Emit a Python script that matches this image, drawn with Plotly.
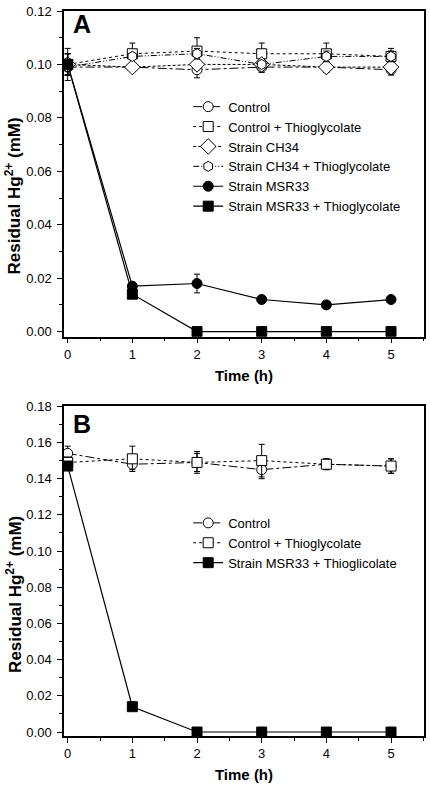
import plotly.graph_objects as go

time_h = [0, 1, 2, 3, 4, 5]

# Panel A
a_control = [0.099, 0.099, 0.098, 0.099, 0.099, 0.098]
a_control_err = [0.003, 0.001, 0.003, 0.002, 0.002, 0.002]
a_control_thio = [0.100, 0.104, 0.105, 0.104, 0.104, 0.103]
a_control_thio_err = [0.006, 0.004, 0.005, 0.004, 0.004, 0.003]
a_ch34 = [0.100, 0.099, 0.100, 0.100, 0.099, 0.099]
a_ch34_err = [0.004, 0.001, 0.002, 0.001, 0.002, 0.002]
a_ch34_thio = [0.099, 0.103, 0.104, 0.100, 0.103, 0.103]
a_ch34_thio_err = [0.003, 0.001, 0.002, 0.001, 0.002, 0.002]
a_msr33 = [0.100, 0.017, 0.018, 0.012, 0.010, 0.012]
a_msr33_err = [0.004, 0.001, 0.0035, 0.0015, 0.001, 0.001]
a_msr33_thio = [0.100, 0.014, 0.000, 0.000, 0.000, 0.000]
a_msr33_thio_err = [0.004, 0.001, 0, 0, 0, 0]

# Panel B
b_control = [0.154, 0.148, 0.149, 0.145, 0.148, 0.147]
b_control_err = [0.004, 0.003, 0.005, 0.005, 0.003, 0.004]
b_control_thio = [0.149, 0.151, 0.149, 0.150, 0.148, 0.147]
b_control_thio_err = [0.003, 0.007, 0.006, 0.009, 0.003, 0.004]
b_msr33_thio = [0.147, 0.014, 0.000, 0.000, 0.000, 0.000]
b_msr33_thio_err = [0.002, 0.001, 0, 0, 0, 0]

x_ticks = [0, 1, 2, 3, 4, 5]
a_y_ticks = [0, 0.02, 0.04, 0.06, 0.08, 0.10, 0.12]
b_y_ticks = [0, 0.02, 0.04, 0.06, 0.08, 0.10, 0.12, 0.14, 0.16, 0.18]

FONT = "Liberation Sans, Arial, sans-serif"
DASHDOTDOT = "6px,2px,1px,2px,1px,2px"

fig = go.Figure()


def add(y, err, name, symbol, dash, filled, xa, ya, legend):
    fig.add_trace(go.Scatter(
        x=time_h, y=y, name=name, mode="lines+markers",
        xaxis=xa, yaxis=ya, legend=legend,
        line=dict(color="black", width=1.2 if filled else 1, dash=dash),
        marker=dict(symbol=symbol, size=10 if symbol != "diamond" else 12,
                    color="black" if filled else "white",
                    line=dict(color="black", width=1)),
        error_y=dict(type="data", array=err, visible=True, color="black",
                     thickness=1, width=3),
    ))


add(a_control, a_control_err, "Control", "circle", "dashdot", False, "x", "y", "legend")
add(a_control_thio, a_control_thio_err, "Control + Thioglycolate", "square", "dot", False, "x", "y", "legend")
add(a_ch34, a_ch34_err, "Strain CH34", "diamond", "3px,2px", False, "x", "y", "legend")
add(a_ch34_thio, a_ch34_thio_err, "Strain CH34 + Thioglycolate", "hexagon", DASHDOTDOT, False, "x", "y", "legend")
add(a_msr33, a_msr33_err, "Strain MSR33", "circle", "solid", True, "x", "y", "legend")
add(a_msr33_thio, a_msr33_thio_err, "Strain MSR33 + Thioglycolate", "square", "solid", True, "x", "y", "legend")

add(b_control, b_control_err, "Control", "circle", "dashdot", False, "x2", "y2", "legend2")
add(b_control_thio, b_control_thio_err, "Control + Thioglycolate", "square", "dot", False, "x2", "y2", "legend2")
add(b_msr33_thio, b_msr33_thio_err, "Strain MSR33 + Thioglicolate", "square", "solid", True, "x2", "y2", "legend2")

axis_common = dict(
    showline=True, linecolor="black", linewidth=1.5, mirror=True,
    ticks="outside", ticklen=5, tickwidth=1, tickcolor="black",
    showgrid=False, zeroline=False,
    tickfont=dict(family=FONT, size=13, color="black"),
)
x_common = dict(axis_common, range=[-0.057, 5.51], tickvals=x_ticks,
                minor=dict(ticks="outside", ticklen=3, tickcolor="black", dtick=0.5, tick0=0, showgrid=False),
                title=dict(text="<b>Time (h)</b>", font=dict(family=FONT, size=15, color="black"), standoff=9))
y_minor = dict(ticks="outside", ticklen=3, tickcolor="black", dtick=0.01, tick0=0, showgrid=False)

ytitle_text = "<b>Residual Hg<sup>2+</sup> (mM)</b>"

# plot area (page px): x 64..426, panel A y 8..335, panel B y 405..736
fig.update_layout(
    width=430, height=787,
    margin=dict(l=64, r=4, t=8, b=51),
    paper_bgcolor="white", plot_bgcolor="white",
    font=dict(family=FONT, color="black"),
    hovermode=False,
    xaxis=dict(x_common, domain=[0, 1], anchor="y"),
    yaxis=dict(axis_common, domain=[0.5508, 1], anchor="x", range=[-0.0019, 0.12],
               tickvals=a_y_ticks, tickformat=".2f", minor=y_minor, ticklabelstandoff=3),
    xaxis2=dict(x_common, domain=[0, 1], anchor="y2"),
    yaxis2=dict(axis_common, domain=[0, 0.4547], anchor="x2", range=[-0.0022, 0.18],
                tickvals=b_y_ticks, tickformat=".2f", minor=y_minor, ticklabelstandoff=3),
    legend=dict(x=0.345, y=0.8887, xanchor="left", yanchor="top", bgcolor="rgba(0,0,0,0)",
                font=dict(family=FONT, size=13, color="black"), tracegroupgap=0, itemwidth=30),
    legend2=dict(x=0.345, y=0.3146, xanchor="left", yanchor="top", bgcolor="rgba(0,0,0,0)",
                 font=dict(family=FONT, size=13, color="black"), tracegroupgap=0, itemwidth=30),
    showlegend=True,
    annotations=[
        dict(text="<b>A</b>", x=0.02, y=1.0046, xref="paper", yref="paper", xanchor="left", yanchor="top",
             showarrow=False, font=dict(family=FONT, size=25, color="black")),
        dict(text="<b>B</b>", x=0.02, y=0.4519, xref="paper", yref="paper", xanchor="left", yanchor="top",
             showarrow=False, font=dict(family=FONT, size=25, color="black")),
        dict(text=ytitle_text, x=-0.1409, y=0.7445, xref="paper", yref="paper", xanchor="center",
             yanchor="middle", textangle=-90, showarrow=False, font=dict(family=FONT, size=17, color="black")),
        dict(text=ytitle_text, x=-0.1409, y=0.195, xref="paper", yref="paper", xanchor="center",
             yanchor="middle", textangle=-90, showarrow=False, font=dict(family=FONT, size=17, color="black")),
    ],
)

fig.write_html("out.html", config={"displayModeBar": False},
               post_script="document.body.style.margin='0px';document.body.style.overflow='hidden';")
